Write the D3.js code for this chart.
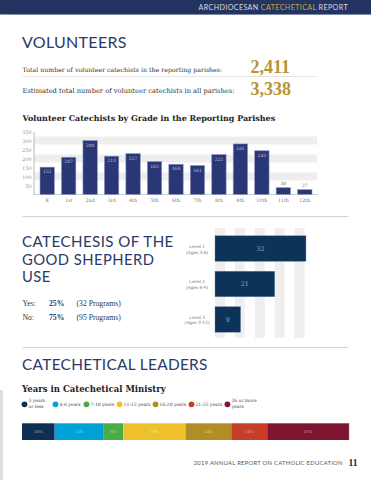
<!DOCTYPE html>
<html>
<head>
<meta charset="utf-8">
<script src="https://cdn.jsdelivr.net/npm/d3@7"></script>
<style>
  body { margin: 0; background: #fff; }
  svg { display: block; }
  .serif { font-family: "DejaVu Serif", serif; }
  .times { font-family: "Liberation Serif", serif; }
  .head { font-family: Lato, sans-serif; }
</style>
</head>
<body>
<div id="page"></div>
<script>
// volunteers
const totalLabels = ['Total number of volunteer catechists in the reporting parishes:',
                     'Estimated total number of volunteer catechists in all parishes:']
const totalValues = [2411, 3338]

const grades = ['K', '1st', '2nd', '3rd', '4th', '5th', '6th', '7th', '8th', '9th', '10th', '11th', '12th']
const volunteers = [152, 207, 300, 213, 227, 183, 168, 161, 222, 281, 243, 38, 27]
const yTicks = [50, 100, 150, 200, 250, 300, 350]
const yBands = [100, 200, 300]

// good shepherd
const cgsAnswers = ['Yes:', 'No:']
const cgsShares = [25, 75]
const cgsCounts = [32, 95]
const cgsLevels = ['Level 1', 'Level 2', 'Level 3']
const cgsAges = ['(Ages 3-6)', '(Ages 6-9)', '(Ages 9-12)']
const cgsPrograms = [32, 21, 9]
const cgsStripes = [0, 7, 14, 21, 28]

// leaders
const yearGroups = [['3 years', 'or less'], ['4-6 years'], ['7-10 years'], ['11-15 years'], ['16-20 years'], ['21-25 years'], ['26 or more', 'years']]
const yearShares = [10, 15, 6, 19, 14, 11, 25]
const yearColors = ['#0f2f52', '#00a1d9', '#4bab45', '#ecc12b', '#b08e26', '#c73d27', '#7e1432']

const W = 371
const H = 480
const navy = '#2b3a67'
const gold = '#b99232'

// the print fonts are not installed, so scale the stand-in to the printed width
const fit = (sel, width) => {
    const len = sel.node().getComputedTextLength()
    sel.attr('font-size', +sel.attr('font-size') * width / len)
    return sel
}

const svg = d3.select('#page').append('svg')
    .attr('width', W)
    .attr('height', H)

// top band
svg.append('rect').attr('x', 0).attr('y', 0).attr('width', W).attr('height', 14.5).attr('fill', '#243460')
svg.append('line').attr('x1', 10).attr('x2', W).attr('y1', 14.5).attr('y2', 14.5)
    .attr('stroke', '#7d86a3').attr('stroke-width', 0.8)
const hdr = svg.append('text').attr('class', 'head')
    .attr('x', 348).attr('y', 9.7)
    .attr('text-anchor', 'end')
    .attr('font-size', 7)
    .attr('letter-spacing', 0.4)
    .attr('fill', '#d9dbe4')
hdr.append('tspan').text('ARCHDIOCESAN ')
hdr.append('tspan').attr('fill', '#c9a54d').text('CATECHETICAL')
hdr.append('tspan').text(' REPORT')
fit(hdr, 150)

// faint edge at the lower left
svg.append('rect').attr('x', 0).attr('y', 390).attr('width', 3).attr('height', 90)
    .attr('fill', '#cdd5d1').attr('opacity', 0.7)

// section titles
const title = (txt, y, size) => svg.append('text').attr('class', 'head')
    .attr('x', 22).attr('y', y)
    .attr('font-size', size).attr('letter-spacing', 0.3)
    .attr('fill', navy).text(txt)

title('VOLUNTEERS', 48.3, 16)

// totals
totalLabels.forEach((t, i) => {
    const y = [71.7, 92.6][i]
    const lbl = svg.append('text').attr('class', 'serif')
        .attr('x', 22.5).attr('y', y)
        .attr('font-size', 6).attr('fill', '#333')
        .text(t)
    fit(lbl, [200, 212.3][i])
    svg.append('text').attr('class', 'times')
        .attr('x', 250.5).attr('y', y + [1.6, 2.4][i])
        .attr('font-size', 18).attr('font-weight', 'bold')
        .attr('fill', gold)
        .text(d3.format(',')(totalValues[i]))
})
svg.append('line').attr('x1', 22.5).attr('x2', 317).attr('y1', 76.5).attr('y2', 76.5)
    .attr('stroke', '#dedede').attr('stroke-width', 0.8)

// bar chart by grade
const chartTitle = svg.append('text').attr('class', 'serif')
    .attr('x', 22.5).attr('y', 121)
    .attr('font-size', 8.5).attr('font-weight', 'bold')
    .attr('fill', '#222')
    .text('Volunteer Catechists by Grade in the Reporting Parishes')
fit(chartTitle, 253.3)

const x = d3.scaleBand()
    .domain(grades)
    .range([34, 318])
    .paddingInner(0.33)
    .paddingOuter(0.28)

const y = d3.scaleLinear()
    .domain([0, 350])
    .range([194.5, 131.5])

svg.selectAll('.yband')
    .data(yBands)
    .enter()
    .append('rect')
    .attr('class', 'yband')
    .attr('x', 34.5)
    .attr('width', 317 - 34.5)
    .attr('y', d => y(d + 22))
    .attr('height', d => y(d - 22) - y(d + 22))
    .attr('fill', '#efeeee')

const yAxis = svg.append('g')
    .attr('transform', 'translate(33.5,0)')
    .call(d3.axisLeft(y).tickValues(yTicks).tickSize(0).tickPadding(2))
yAxis.select('.domain').attr('stroke', '#999').attr('stroke-width', 0.7)
yAxis.selectAll('text')
    .attr('class', 'serif')
    .attr('font-size', 4.8)
    .attr('fill', '#8a8a8a')

const xAxis = svg.append('g')
    .attr('transform', `translate(0,${y(0)})`)
    .call(d3.axisBottom(x).tickSize(0).tickPadding(4.5))
xAxis.select('.domain').attr('stroke', '#bbb').attr('stroke-width', 0.7).attr('d', `M33.5,0H318`)
xAxis.selectAll('text')
    .attr('class', 'serif')
    .attr('font-size', 4.8)
    .attr('fill', '#777')

svg.selectAll('.gbar')
    .data(volunteers)
    .enter()
    .append('rect')
    .attr('class', 'gbar')
    .attr('x', (d, i) => x(grades[i]))
    .attr('width', x.bandwidth())
    .attr('y', d => y(d))
    .attr('height', d => y(0) - y(d))
    .attr('fill', '#2a3776')
    .attr('stroke', '#8f96c4')
    .attr('stroke-width', 0.6)

svg.selectAll('.glabel')
    .data(volunteers)
    .enter()
    .append('text')
    .attr('class', 'serif glabel')
    .attr('x', (d, i) => x(grades[i]) + x.bandwidth() / 2)
    .attr('y', d => d < 60 ? y(d) - 2.5 : y(d) + 6)
    .attr('text-anchor', 'middle')
    .attr('font-size', 4.5)
    .attr('fill', d => d < 60 ? '#666' : '#c3c7e2')
    .text(d => d)

svg.append('line').attr('x1', 22.5).attr('x2', 348.5).attr('y1', 216.5).attr('y2', 216.5)
    .attr('stroke', '#c8c8c8').attr('stroke-width', 0.8)

// catechesis of the good shepherd
;['CATECHESIS OF THE', 'GOOD SHEPHERD', 'USE'].forEach((t, i) => {
    const s = title(t, 247.3 + i * 17.4, 14.8).attr('letter-spacing', 0.45)
    if (i === 0) fit(s, 152)
})

cgsAnswers.forEach((a, i) => {
    const yy = 306 + i * 14.2
    const row = svg.append('g').attr('class', 'times').attr('font-size', 7.7).attr('fill', '#333')
    row.append('text').attr('x', 22.5).attr('y', yy).text(a)
    row.append('text').attr('x', 49).attr('y', yy).attr('font-weight', 'bold').attr('fill', navy)
        .text(cgsShares[i] + '%')
    row.append('text').attr('x', 76.5).attr('y', yy).text(`(${cgsCounts[i]} Programs)`)
})

const cx = d3.scaleLinear()
    .domain([0, 35])
    .range([215, 314.5])

const cy = d3.scaleBand()
    .domain(cgsLevels)
    .range([228, 340])
    .paddingInner(0.28)
    .paddingOuter(0.22)

svg.selectAll('.stripe')
    .data(cgsStripes)
    .enter()
    .append('rect')
    .attr('class', 'stripe')
    .attr('x', d => cx(d))
    .attr('width', cx(3.5) - cx(0))
    .attr('y', 228)
    .attr('height', 338 - 228)
    .attr('fill', '#f0eeee')

svg.selectAll('.cbar')
    .data(cgsPrograms)
    .enter()
    .append('rect')
    .attr('class', 'cbar')
    .attr('x', cx(0))
    .attr('width', d => cx(d) - cx(0))
    .attr('y', (d, i) => cy(cgsLevels[i]))
    .attr('height', cy.bandwidth())
    .attr('fill', '#0e3358')
    .attr('stroke', '#6f86a6')
    .attr('stroke-width', 0.4)

svg.selectAll('.cval')
    .data(cgsPrograms)
    .enter()
    .append('text')
    .attr('class', 'serif cval')
    .attr('x', d => (cx(d) + cx(0)) / 2)
    .attr('y', (d, i) => cy(cgsLevels[i]) + cy.bandwidth() / 2 + 2.3)
    .attr('text-anchor', 'middle')
    .attr('font-size', 6.3)
    .attr('fill', '#97a8c2')
    .text(d => d)

cgsLevels.forEach((l, i) => {
    const mid = cy(l) + cy.bandwidth() / 2
    const g = svg.append('g').attr('class', 'serif')
        .attr('font-size', 4.3).attr('fill', '#777').attr('text-anchor', 'middle')
    g.append('text').attr('x', 197).attr('y', mid - 0.8).text(l)
    g.append('text').attr('x', 197).attr('y', mid + 5).text(cgsAges[i])
})

svg.append('line').attr('x1', 22.5).attr('x2', 348.5).attr('y1', 347.5).attr('y2', 347.5)
    .attr('stroke', '#c8c8c8').attr('stroke-width', 0.8)

// catechetical leaders
fit(title('CATECHETICAL LEADERS', 369.6, 16), 185.6)

const yearsTitle = svg.append('text').attr('class', 'serif')
    .attr('x', 22).attr('y', 391.8)
    .attr('font-size', 9).attr('font-weight', 'bold')
    .attr('fill', '#222')
    .text('Years in Catechetical Ministry')
fit(yearsTitle, 144)

let lx = 21.5
yearGroups.forEach((lines, i) => {
    const g = svg.append('g')
    g.append('circle').attr('cx', lx + 3).attr('cy', 404.3).attr('r', 2.9).attr('fill', yearColors[i])
    const t = g.append('text').attr('class', 'serif')
        .attr('font-size', 4.5).attr('fill', '#444')
    lines.forEach((s, j) => {
        t.append('tspan')
            .attr('x', lx + 7)
            .attr('y', lines.length === 1 ? 405.9 : 402.4 + j * 5.8)
            .text(s)
    })
    lx = lx + Math.max(31, 7 + t.node().getBBox().width + 1.5)
})

const sx = d3.scaleLinear()
    .domain([0, d3.sum(yearShares)])
    .range([22, 349])
const starts = d3.cumsum([0].concat(yearShares))

svg.selectAll('.seg')
    .data(yearShares)
    .enter()
    .append('rect')
    .attr('class', 'seg')
    .attr('x', (d, i) => sx(starts[i]))
    .attr('width', d => sx(d) - sx(0))
    .attr('y', 423.3)
    .attr('height', 16.7)
    .attr('fill', (d, i) => yearColors[i])

svg.selectAll('.sval')
    .data(yearShares)
    .enter()
    .append('text')
    .attr('class', 'times sval')
    .attr('x', (d, i) => sx(starts[i] + d / 2))
    .attr('y', 433.4)
    .attr('text-anchor', 'middle')
    .attr('font-size', 4.8)
    .attr('fill', 'rgba(255,255,255,0.6)')
    .text(d => d + '%')

svg.append('line').attr('x1', 349.3).attr('x2', 349.3).attr('y1', 423.3).attr('y2', 440)
    .attr('stroke', '#c9b9c0').attr('stroke-width', 0.6)

// footer
const foot = svg.append('text').attr('class', 'head')
    .attr('x', 342.8).attr('y', 464.8)
    .attr('text-anchor', 'end')
    .attr('font-size', 5.9).attr('letter-spacing', 0.3)
    .attr('fill', '#555')
    .text('2019 ANNUAL REPORT ON CATHOLIC EDUCATION')
fit(foot, 149)
svg.append('text').attr('class', 'times')
    .attr('x', 348.6).attr('y', 466)
    .attr('font-size', 9.5).attr('font-weight', 'bold')
    .attr('fill', '#222')
    .text('11')
</script>
</body>
</html>
